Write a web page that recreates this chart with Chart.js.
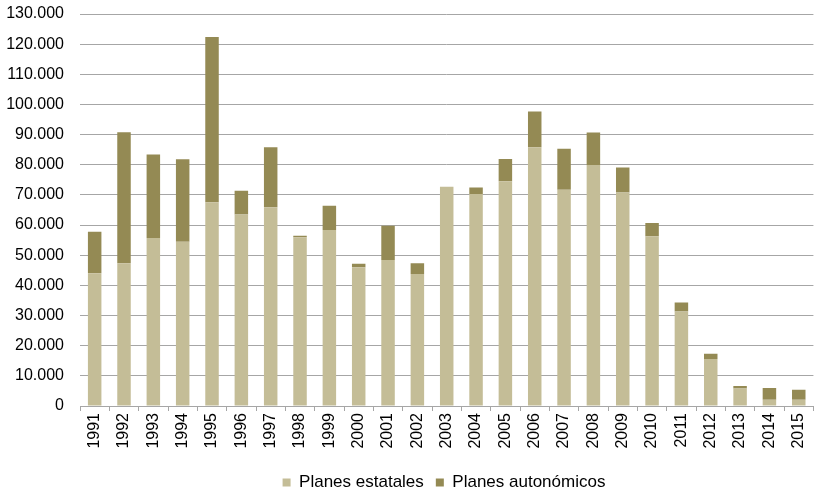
<!DOCTYPE html>
<html>
<head>
<meta charset="utf-8">
<script src="https://cdn.jsdelivr.net/npm/chart.js@4/dist/chart.umd.min.js"></script>
<style>
  html, body { margin: 0; padding: 0; background: #ffffff; }
  #wrap { width: 820px; height: 493px; }
</style>
</head>
<body>
<div id="wrap"><canvas id="chart" width="820" height="493"></canvas></div>
<script>
// Viviendas por año (1991–2015), planes estatales y autonómicos
const years = ['1991','1992','1993','1994','1995','1996','1997','1998','1999','2000',
               '2001','2002','2003','2004','2005','2006','2007','2008','2009','2010',
               '2011','2012','2013','2014','2015'];

const planesEstatales = [44000, 47300, 55700, 54500, 67600, 63500, 65900, 56000, 58400, 46000,
                         48400, 43800, 72700, 70300, 74500, 85800, 71700, 79900, 70800, 56300,
                         31300, 15600, 5800, 2100, 2100];

const planesAutonomicos = [13800, 43500, 27700, 27300, 54800, 7900, 19900, 500, 8000, 1200,
                           11400, 3500, -600, 2200, 7400, 11900, 13600, 10800, 8300, 4400,
                           3000, 1700, 800, 3900, 3300];

const seriesNames = ['Planes estatales', 'Planes autonómicos'];
const colors = ['#C4BD97', '#948A54'];

const fmt = v => String(v).replace(/\B(?=(\d{3})+(?!\d))/g, '.');
const FONT = 'Liberation Sans, Arial, sans-serif';

// Moves the legend block under the plot area
const legendShift = {
  id: 'legendShift',
  afterLayout(chart) {
    const lg = chart.legend;
    if (!lg) return;
    const dx = 35, dy = 14;
    lg.left += dx; lg.right += dx;
    lg.top += dy; lg.bottom += dy;
  }
};

new Chart(document.getElementById('chart'), {
  type: 'bar',
  data: {
    labels: years,
    datasets: [
      { label: seriesNames[0], data: planesEstatales, backgroundColor: colors[0], borderWidth: 0 },
      { label: seriesNames[1], data: planesAutonomicos, backgroundColor: colors[1], borderWidth: 0 }
    ]
  },
  plugins: [legendShift],
  options: {
    responsive: false,
    animation: false,
    devicePixelRatio: 1,
    layout: { padding: { left: 0, right: 2, top: 14, bottom: 6 } },
    datasets: { bar: { barPercentage: 0.46, categoryPercentage: 1.0 } },
    plugins: {
      tooltip: { enabled: false },
      legend: {
        position: 'bottom',
        labels: {
          color: '#000000',
          font: { family: FONT, size: 17 },
          boxWidth: 8,
          boxHeight: 8,
          padding: 12
        }
      }
    },
    scales: {
      x: {
        stacked: true,
        afterFit: s => { s.height = 42; },
        grid: { display: true, drawOnChartArea: false, drawTicks: true, tickLength: 5, color: '#A6A6A6', offset: true },
        border: { display: true, color: '#A6A6A6', width: 1 },
        ticks: {
          color: '#000000',
          minRotation: 90, maxRotation: 90,
          autoSkip: false,
          padding: 2,
          font: { family: FONT, size: 16 }
        }
      },
      y: {
        stacked: true,
        min: 0, max: 130000,
        afterFit: s => { s.width = 80; s.paddingTop = 0; s.paddingBottom = 0; },
        grid: { color: '#A6A6A6', lineWidth: 1, drawTicks: false },
        border: { display: false },
        ticks: {
          stepSize: 10000,
          padding: 16,
          color: '#000000',
          font: { family: FONT, size: 16 },
          callback: v => fmt(v)
        }
      }
    }
  }
});
</script>
</body>
</html>
